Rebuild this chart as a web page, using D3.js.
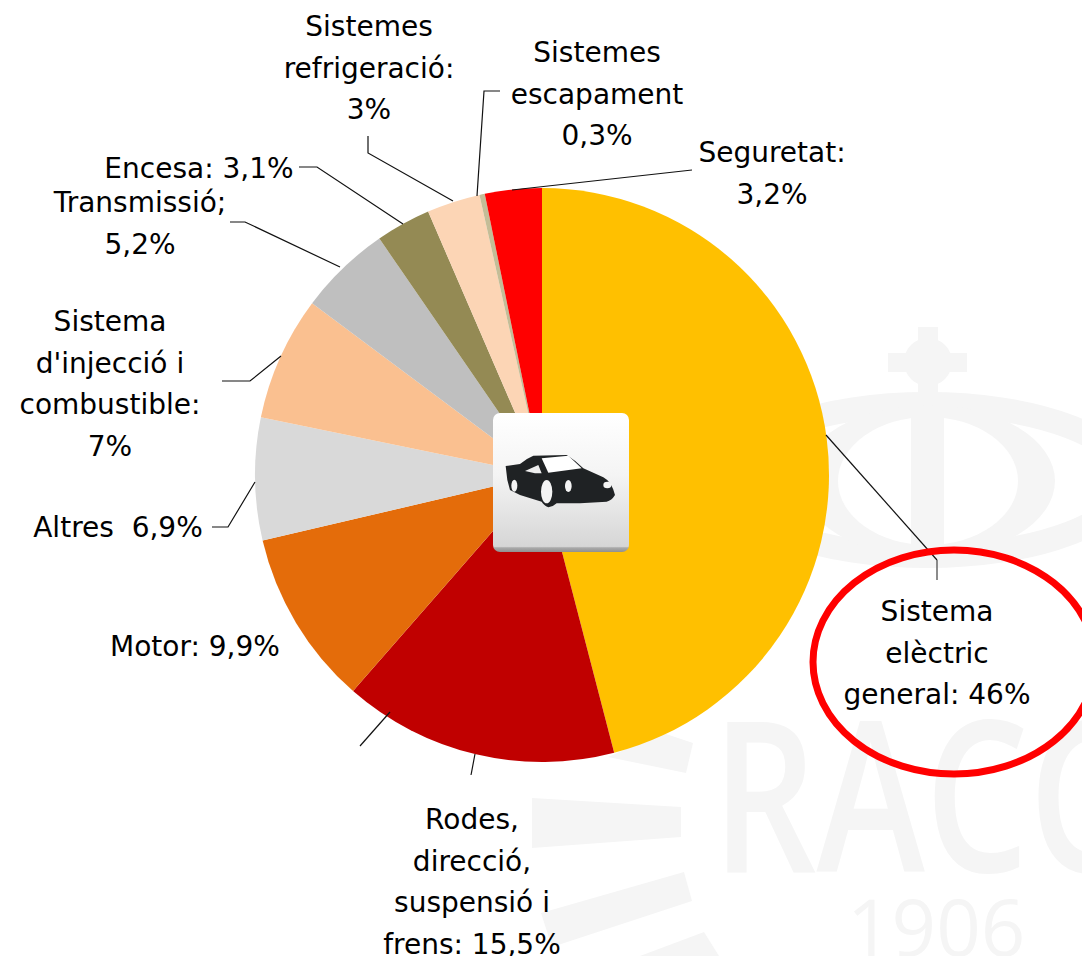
<!DOCTYPE html>
<html><head><meta charset="utf-8">
<script src="https://cdn.jsdelivr.net/npm/d3@7"></script>
<style>html,body{margin:0;padding:0;background:#fff;overflow:hidden}svg{display:block}
text{font-family:"DejaVu Sans",sans-serif;fill:#000;white-space:pre}</style></head>
<body><svg id="c" width="1082" height="956"></svg>
<script>
const categories=["Sistema elèctric general","Rodes, direcció, suspensió i frens","Motor","Altres","Sistema d'injecció i combustible","Transmissió","Encesa","Sistemes refrigeració","Sistemes escapament","Seguretat"];
const values=[46,15.5,9.9,6.9,7,5.2,3.1,3,0.3,3.2];
const colors=["#FFC000","#C00000","#E46C0A","#D9D9D9","#FAC090","#BFBFBF","#948A54","#FCD5B5","#C4BD97","#FF0000"];
const labelLines=[["Sistema","elèctric","general: 46%"],["Rodes,","direcció,","suspensió i","frens: 15,5%"],["Motor: 9,9%"],["Altres  6,9%"],["Sistema","d'injecció i","combustible:","7%"],["Transmissió;","5,2%"],["Encesa: 3,1%"],["Sistemes","refrigeració:","3%"],["Sistemes","escapament","0,3%"],["Seguretat:","3,2%"]];
const labelPos=[[937,621],[472,829],[195,656],[118,537],[110,331],[140,212],[199,178],[369,36],[597,62],[772,162]];
const leaders=[[[826,435],[937,560]],[[475,754],[471,775]],[[390,712],[360,746]],[[255,482],[228,527],[212,527]],[[281,356],[250,381],[222,381]],[[340,267],[245,222],[230,222]],[[403,224],[317,167],[299,167]],[[453,201],[368,153],[368,136]],[[477,196],[484,91],[500,91]],[[512,190],[692,170]]];
const wmStripes=[[[663,733],[693,743],[686,773],[608,757]],[[532,798],[681,807],[681,837],[532,848]],[[541,913],[684,872],[692,901],[552,947]],[[704,932],[719,956],[640,956]]];
const svg=d3.select("#c");
const defs=svg.append("defs");
const g=defs.append("linearGradient").attr("id","box").attr("x1",0).attr("y1",0).attr("x2",0).attr("y2",1);
g.append("stop").attr("offset","0").attr("stop-color","#ffffff");
g.append("stop").attr("offset","0.45").attr("stop-color","#f4f4f4");
g.append("stop").attr("offset","0.96").attr("stop-color","#d6d6d6");
g.append("stop").attr("offset","0.97").attr("stop-color","#aaaaaa");
g.append("stop").attr("offset","1").attr("stop-color","#909090");
// watermark
const WM="#f5f5f5";
const wm=svg.append("g");
wm.append("ellipse").attr("cx",927).attr("cy",480).attr("rx",200).attr("ry",76).attr("fill","none").attr("stroke",WM).attr("stroke-width",24);
wm.append("ellipse").attr("cx",928).attr("cy",481).attr("rx",127).attr("ry",76).attr("fill",WM);
wm.append("ellipse").attr("cx",928).attr("cy",481).attr("rx",90).attr("ry",64).attr("fill","#fff");
wm.append("rect").attr("x",911).attr("y",415).attr("width",33).attr("height",140).attr("fill",WM);
wm.append("rect").attr("x",918).attr("y",327).attr("width",20).attr("height",70).attr("fill",WM);
wm.append("rect").attr("x",888).attr("y",353).attr("width",79).attr("height",19).attr("fill",WM);
wm.append("circle").attr("cx",928).attr("cy",362).attr("r",24).attr("fill",WM);
svg.append("g").selectAll("polygon").data(wmStripes).join("polygon").attr("points",d=>d.join(" ")).attr("fill",WM);
svg.append("text").attr("transform","translate(712,872) scale(0.78,1)").attr("font-size",210).attr("font-weight",600).style("font-family","'Open Sans'").style("fill",WM).text("RACC");
svg.append("text").attr("x",847).attr("y",956).attr("font-size",78).style("font-family","'Open Sans'").style("fill",WM).text("1906");
// pie
const cx=542,cy=475,R=287;
const pie=d3.pie().sort(null)(values);
const arc=d3.arc().innerRadius(0).outerRadius(R);
svg.append("g").attr("transform",`translate(${cx},${cy})`).selectAll("path").data(pie).join("path")
 .attr("d",arc).attr("fill",(d,i)=>colors[i]);
// leaders
const line=d3.line();
svg.append("g").selectAll("path").data(leaders).join("path").attr("d",d=>line(d)).attr("fill","none").attr("stroke","#111").attr("stroke-width",1.2);
svg.append("line").attr("x1",937).attr("y1",560).attr("x2",937).attr("y2",580).attr("stroke","#666").attr("stroke-width",1.5);
// highlight
svg.append("ellipse").attr("cx",954).attr("cy",662).attr("rx",141).attr("ry",112).attr("fill","none").attr("stroke","#FF0000").attr("stroke-width",7);
// labels
const lh=41.5;
const lab=svg.append("g").selectAll("text").data(labelLines).join("text").attr("text-anchor","middle").attr("font-size",28)
 .attr("x",(d,i)=>labelPos[i][0]).attr("y",(d,i)=>labelPos[i][1]);
lab.selectAll("tspan").data((d,i)=>d.map(t=>({t,x:labelPos[i][0]}))).join("tspan").attr("x",d=>d.x).attr("dy",(d,i)=>i?lh:0).text(d=>d.t);
// icon
const ic=svg.append("g");
ic.append("rect").attr("x",493).attr("y",413).attr("width",136).attr("height",139).attr("rx",7).attr("fill","url(#box)");
const car=ic.append("g").attr("transform","translate(470,390) scale(0.3333)");
car.append("path").attr("fill","#1f2224").attr("d","M107,228L150,222Q170,205 190,197L290,195Q315,210 340,235L400,262Q425,275 435,315Q425,332 410,335L330,340L260,340Q250,350 235,352Q220,345 215,335L150,315L120,300L112,270Z");
car.append("path").attr("fill","#fff").attr("d","M215,205L295,197L335,235L235,248Z");
car.append("path").attr("fill","#eee").attr("d","M165,243L205,225L215,250L195,250Z");
[[230,305,17,35],[133,287,9,18],[295,288,10,18],[412,285,12,10]].forEach(e=>car.append("ellipse").attr("cx",e[0]).attr("cy",e[1]).attr("rx",e[2]).attr("ry",e[3]).attr("fill","#f4f4f4"));
</script></body></html>
